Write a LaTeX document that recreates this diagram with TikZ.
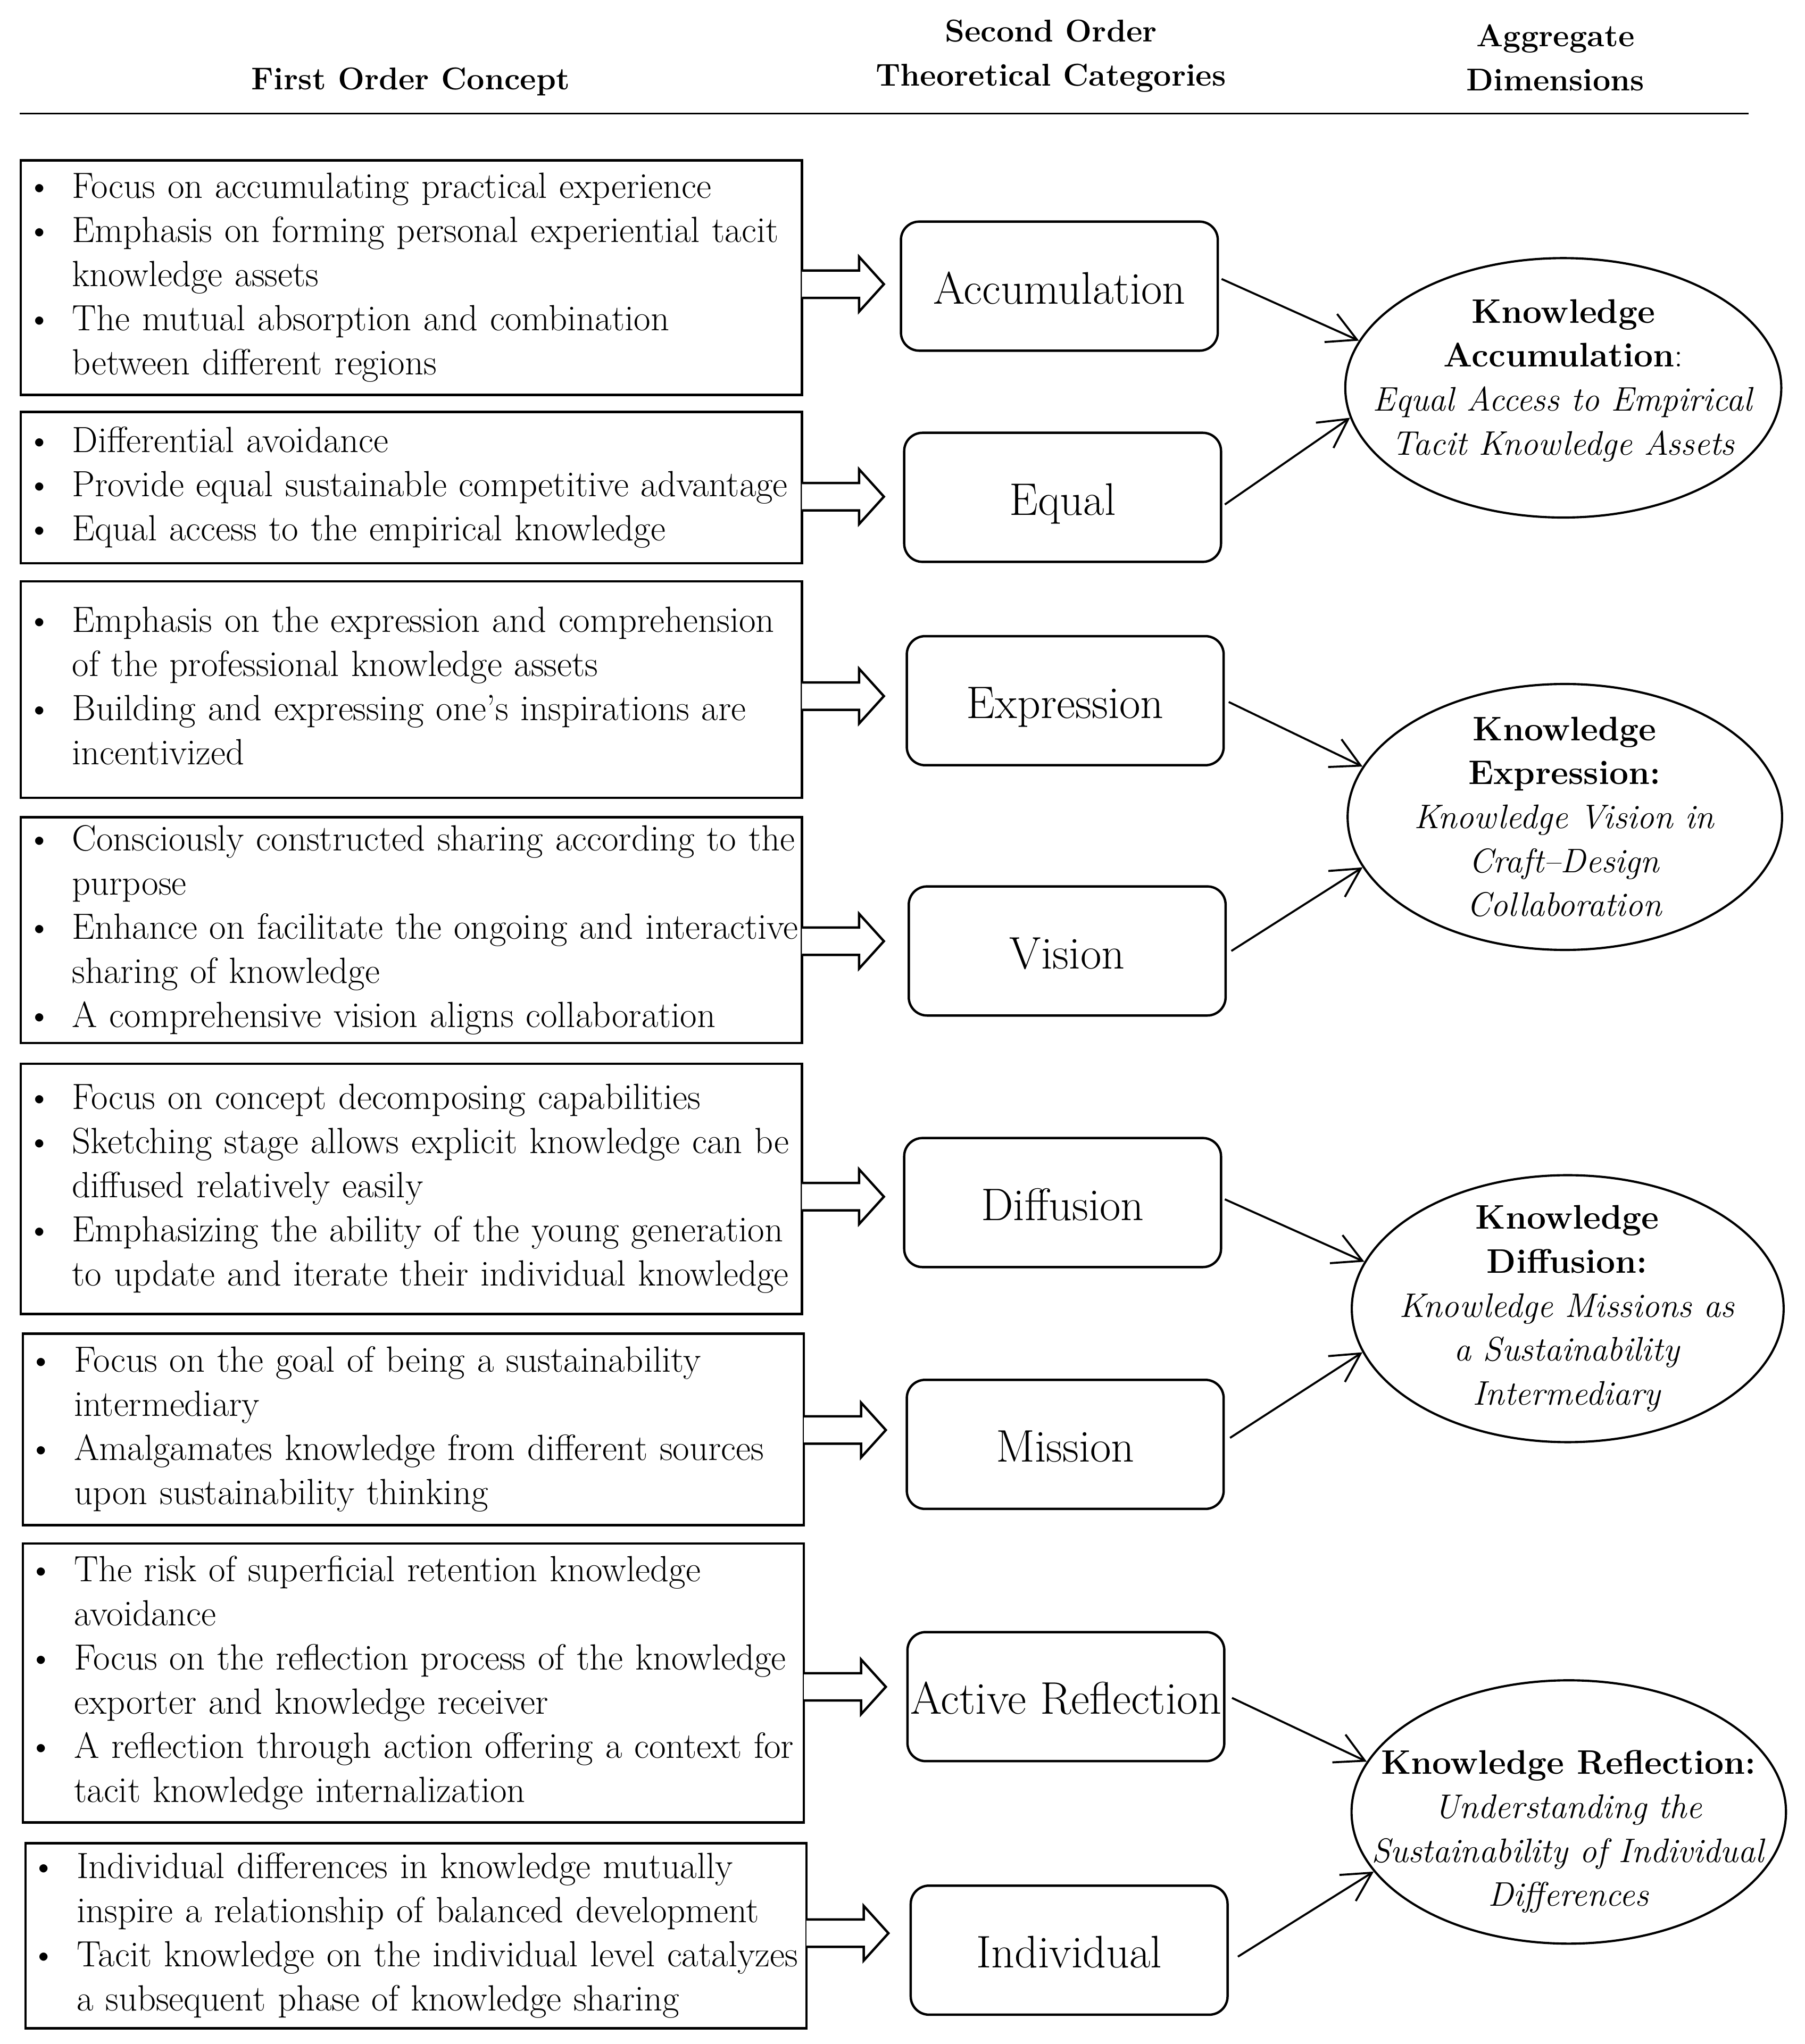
\documentclass[tikz,border=0pt]{standalone}
\usepackage{fontspec}
\usetikzlibrary{shapes.geometric,arrows.meta,calc}
\newcommand\bodyfont{\fontsize{19.9}{24.1}\selectfont}
\newcommand\midfont{\fontsize{24.9}{28}\selectfont}
\newcommand\headfont{\fontsize{17.2}{24.1}\selectfont\bfseries}
\newcommand\ellfont{\fontsize{18.6}{24}\selectfont}
\newenvironment{blist}{\noindent\begin{tabular}{@{}l@{\hspace{3.8mm}}l@{}}}{\end{tabular}}
\newcommand\bpt{\textbullet}
\newcommand\blockarrow[2]{%
  \coordinate (#1y) at (0,#2);
  \coordinate (#1t) at (#1.east |- #1y);
  \filldraw[barrow] ($(#1t)+(-0.9,-10.5)$) -- ($(#1t)+(43,-10.5)$) -- ($(#1t)+(43,-21)$)
    -- ($(#1t)+(62,0)$) -- ($(#1t)+(43,21)$) -- ($(#1t)+(43,10.5)$) -- ($(#1t)+(-0.9,10.5)$);
}
\begin{document}
\begin{tikzpicture}[x=0.25mm,y=-0.25mm,
  lbox/.style={draw, line width=1.3pt, align=left, inner xsep=1mm, inner ysep=0pt,
    text width=147.75mm, minimum height={#1*0.25mm}, font=\bodyfont},
  mbox/.style={draw, line width=1.3pt, rounded corners=3.5mm, minimum width=60.75mm,
    minimum height=24.75mm, inner sep=0pt, text height=8.6mm, text depth=1.85mm, font=\midfont},
  ell/.style={ellipse, draw, line width=1.2pt, inner sep=0pt},
  etext/.style={anchor=base, inner sep=0pt, font=\ellfont},
  head/.style={anchor=base, inner sep=0pt, font=\headfont},
  barrow/.style={line width=1.3pt, fill=white, line join=miter},
  conn/.style={line width=1.1pt, -{Straight Barb[length=5.5mm, width=5.9mm]}}
]
\useasboundingbox (0,0) rectangle (1384,1568);

% header
\node[head] (h1) at (315,68.6) {First Order Concept};
\node[head] (h2) at (806,32) {\begin{tabular}[t]{@{}c@{}}Second Order\\Theoretical Categories\end{tabular}};
\node[head] (h3) at (1193,35.6) {\begin{tabular}[t]{@{}c@{}}Aggregate\\Dimensions\end{tabular}};
\draw[line width=1pt] (15,87) -- (1341,87);

% first order concept boxes
\node[lbox=180] (b1) at (315.5,213) {\begin{blist}
\bpt & Focus on accumulating practical experience\\
\bpt & Emphasis on forming personal experiential tacit\\
 & knowledge assets\\
\bpt & The mutual absorption and combination\\
 & between different regions
\end{blist}};
\node[lbox=116] (b2) at (315.5,374) {\begin{blist}
\bpt & Differential avoidance\\
\bpt & Provide equal sustainable competitive advantage\\
\bpt & Equal access to the empirical knowledge
\end{blist}};
\node[lbox=166] (b3) at (315.5,529) {\begin{blist}
\bpt & Emphasis on the expression and comprehension\\
 & of the professional knowledge assets\\
\bpt & Building and expressing one’s inspirations are\\
 & incentivized
\end{blist}};
\node[lbox=173] (b4) at (315.5,713.5) {\begin{blist}
\bpt & Consciously constructed sharing according to the\\
 & purpose\\
\bpt & Enhance on facilitate the ongoing and interactive\\
 & sharing of knowledge\\
\bpt & A comprehensive vision aligns collaboration
\end{blist}};
\node[lbox=192] (b5) at (315.5,912) {\begin{blist}
\bpt & Focus on concept decomposing capabilities\\
\bpt & Sketching stage allows explicit knowledge can be\\
 & diffused relatively easily\\
\bpt & Emphasizing the ability of the young generation\\
 & to update and iterate their individual knowledge
\end{blist}};
\node[lbox=147] (b6) at (317,1096.5) {\begin{blist}
\bpt & Focus on the goal of being a sustainability\\
 & intermediary\\
\bpt & Amalgamates knowledge from different sources\\
 & upon sustainability thinking
\end{blist}};
\node[lbox=214] (b7) at (317,1291) {\begin{blist}
\bpt & The risk of superficial retention knowledge\\
 & avoidance\\
\bpt & Focus on the reflection process of the knowledge\\
 & exporter and knowledge receiver\\
\bpt & A reflection through action offering a context for\\
 & tacit knowledge internalization
\end{blist}};
\node[lbox=142] (b8) at (319,1485) {\begin{blist}
\bpt & Individual differences in knowledge mutually\\
 & inspire a relationship of balanced development\\
\bpt & Tacit knowledge on the individual level catalyzes\\
 & a subsequent phase of knowledge sharing
\end{blist}};

% second order categories
\node[mbox] (acc) at (812.5,219.5) {Accumulation};
\node[mbox] (eq)  at (815,381.5) {Equal};
\node[mbox] (exp) at (817,537.5) {Expression};
\node[mbox] (vis) at (818.5,729.5) {Vision};
\node[mbox] (dif) at (815,922.5) {Diffusion};
\node[mbox] (mis) at (817,1108) {Mission};
\node[mbox] (act) at (817.5,1301.5) {Active Reflection};
\node[mbox] (ind) at (820,1496) {Individual};

% block arrows
\blockarrow{b1}{218}
\blockarrow{b2}{381}
\blockarrow{b3}{534}
\blockarrow{b4}{722}
\blockarrow{b5}{918}
\blockarrow{b6}{1097}
\blockarrow{b7}{1294}
\blockarrow{b8}{1483}

% aggregate dimensions
\node[ell, minimum width=83.6mm, minimum height=49.75mm] (e1) at (1199,297.5) {};
\node[ell, minimum width=83.3mm, minimum height=51mm] (e2) at (1200.2,626.7) {};
\node[ell, minimum width=82.8mm, minimum height=51.2mm] (e3) at (1202.4,1003.9) {};
\node[ell, minimum width=83.3mm, minimum height=50.5mm] (e4) at (1203.2,1390) {};

\node[etext] (e1t) at (1199,247.7) {\begin{tabular}[t]{@{}c@{}}\textbf{Knowledge}\\\textbf{Accumulation}:\\\textit{Equal Access to Empirical}\\\textit{Tacit Knowledge Assets}\end{tabular}};
\node[etext] (e2t) at (1200,568) {\begin{tabular}[t]{@{}c@{}}\textbf{Knowledge}\\\textbf{Expression:}\\\textit{Knowledge Vision in}\\\textit{Craft\textendash Design}\\\textit{Collaboration}\end{tabular}};
\node[etext] (e3t) at (1202,942.8) {\begin{tabular}[t]{@{}c@{}}\textbf{Knowledge}\\\textbf{Diffusion:}\\\textit{Knowledge Missions as}\\\textit{a Sustainability}\\\textit{Intermediary}\end{tabular}};
\node[etext] (e4t) at (1203,1361) {\begin{tabular}[t]{@{}c@{}}\textbf{Knowledge Reflection:}\\\textit{Understanding the}\\\textit{Sustainability of Individual}\\\textit{Differences}\end{tabular}};

% connectors
\draw[conn] ($(acc.east)+(2,-5.5)$) -- (e1.167.6);
\draw[conn] ($(eq.east)+(2,5.5)$) -- (e1.188.9);
\draw[conn] ($(exp.east)+(3,1)$) -- (e2.166.2);
\draw[conn] ($(vis.east)+(3.5,0)$) -- (e2.194.6);
\draw[conn] ($(dif.east)+(2,-2.5)$) -- (e3.167.6);
\draw[conn] ($(mis.east)+(4,-5)$) -- (e3.192.9);
\draw[conn] ($(act.east)+(5,1)$) -- (e4.166.5);
\draw[conn] ($(ind.east)+(7,5)$) -- (e4.197.5);
\end{tikzpicture}
\end{document}
